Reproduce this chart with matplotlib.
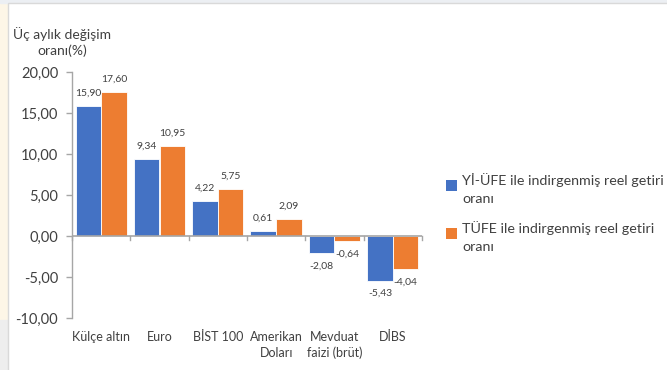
import matplotlib
matplotlib.use("Agg")
from matplotlib import pyplot as plt
from matplotlib.patches import Rectangle
from matplotlib.legend_handler import HandlerPatch
import numpy as np

plt.rcParams['font.family'] = ['Lato', 'DejaVu Sans']

# data
categories = ['Külçe altın', 'Euro', 'BİST 100', 'Amerikan\nDoları', 'Mevduat\nfaizi (brüt)', 'DİBS']
yi_ufe = [15.90, 9.34, 4.22, 0.61, -2.08, -5.43]
tufe = [17.60, 10.95, 5.75, 2.09, -0.64, -4.04]
series_names = ['Yİ-ÜFE ile indirgenmiş reel getiri\noranı', 'TÜFE ile indirgenmiş reel getiri\noranı']
yticks = [-10, -5, 0, 5, 10, 15, 20]

blue = '#4472C4'
orange = '#ED7D31'
txt = '#404040'
grey = '#a6a6a6'

fig = plt.figure(figsize=(6.67, 3.70), dpi=100)
fig.patch.set_facecolor('white')

# page background around the chart frame
W, H = 667, 370
fig.patches.append(Rectangle((0, 0), 8 / W, 1, transform=fig.transFigure, color='#fdf6e7', zorder=-3))
fig.patches.append(Rectangle((0, 0), 8 / W, 50 / H, transform=fig.transFigure, color='#eeeeee', zorder=-3))
fig.patches.append(Rectangle((0, 1 - 3 / H), 1, 3 / H, transform=fig.transFigure, color='#eceff3', zorder=-3))
fig.patches.append(Rectangle((8 / W, -0.01), 1, 1 - 3 / H + 0.01, transform=fig.transFigure,
                             facecolor='white', edgecolor='#d9d9d9', lw=1, zorder=-2))

ax = fig.add_axes([72 / W, 52 / H, 350 / W, 246 / H])
ax.set_facecolor('none')

x = np.arange(len(categories))
w = 0.44
b1 = ax.bar(x - w / 2, yi_ufe, w, color=blue, edgecolor='white', linewidth=0.6, zorder=2)
b2 = ax.bar(x + w / 2, tufe, w, color=orange, edgecolor='white', linewidth=0.6, zorder=2)

def fmt(v):
    return f'{v:.2f}'.replace('.', ',')

for bars, vals in [(b1, yi_ufe), (b2, tufe)]:
    for r, v in zip(bars, vals):
        cx = r.get_x() + r.get_width() / 2
        if v >= 0:
            ax.annotate(fmt(v), (cx, v), xytext=(0, 6), textcoords='offset points',
                        ha='center', va='bottom', fontsize=7.5, color=txt)
        else:
            ax.annotate(fmt(v), (cx, v), xytext=(0, -6), textcoords='offset points',
                        ha='center', va='top', fontsize=7.5, color=txt)

ax.set_xlim(-0.5, len(categories) - 0.5)
ax.set_ylim(-10, 20)
ax.set_yticks(yticks)
ax.set_yticklabels([fmt(v) for v in yticks], fontsize=10.5, color=txt)
ax.tick_params(axis='y', length=4, color=grey, width=1, pad=6)

for s in ['top', 'right', 'bottom']:
    ax.spines[s].set_visible(False)
ax.spines['left'].set_color(grey)
ax.spines['left'].set_linewidth(1)

# zero line with category boundary ticks
ax.axhline(0, color=grey, lw=1.2, zorder=3)
ax.set_xticks([])
for b in np.arange(len(categories) + 1) - 0.5:
    ax.plot([b, b], [0, -0.5], color=grey, lw=1, zorder=3, clip_on=False)

for i, c in enumerate(categories):
    ax.text(i, -11.6, c, ha='center', va='top', fontsize=9, color=txt, linespacing=1.35)

fig.text(62 / W, 1 - 42 / H, 'Üç aylık değişim\noranı(%)', ha='center', va='center',
         fontsize=10, color=txt, linespacing=1.4)

class TopSquare(HandlerPatch):
    def create_artists(self, legend, orig_handle, xdescent, ydescent, width, height, fontsize, trans):
        s = 0.75 * fontsize
        p = Rectangle((width - s - xdescent, height - ydescent - s * 0.75), s, s,
                      facecolor=orig_handle.get_facecolor(), edgecolor='none', transform=trans)
        return [p]

leg = fig.legend([b1.patches[0], b2.patches[0]], series_names, loc='upper left',
                 bbox_to_anchor=(432 / W, 1 - 160 / H), frameon=False, fontsize=10.3,
                 labelcolor=txt, handlelength=0.85, handleheight=1.0, handletextpad=0.35,
                 labelspacing=1.15, handler_map={Rectangle: TopSquare()})
for t in leg.get_texts():
    t.set_linespacing(1.6)

fig.savefig('out.png', dpi=100)
